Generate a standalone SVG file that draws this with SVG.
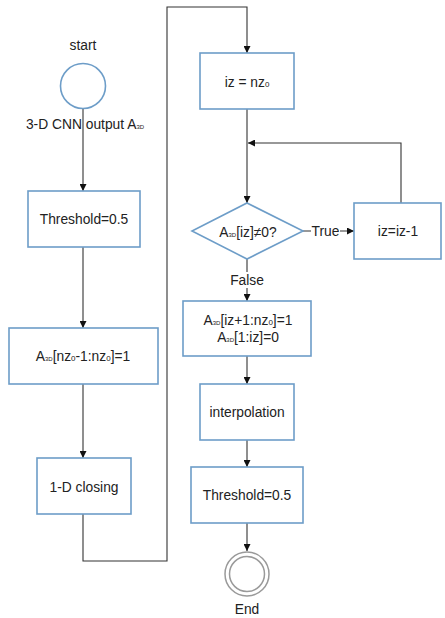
<svg xmlns="http://www.w3.org/2000/svg" width="445" height="618" viewBox="0 0 445 618">
<defs>
<marker id="ah" viewBox="0 0 10 10" refX="10" refY="5" markerWidth="7" markerHeight="7" markerUnits="userSpaceOnUse" orient="auto">
<path d="M0,0 L10,5 L0,10 z" fill="#111"/>
</marker>
<style>
.box{fill:#fff;stroke:#6d9dc8;stroke-width:1.6}
.c{fill:none;stroke:#333;stroke-width:1.1}
.t{font-family:"Liberation Sans",Arial,sans-serif;font-size:13.8px;fill:#222;text-anchor:middle}
.s{font-size:6px}
.z{font-size:8px}
</style>
</defs>
<rect width="445" height="618" fill="#fff"/>
<g id="connectors">
<path class="c" d="M83,109 V191" marker-end="url(#ah)"/>
<path class="c" d="M83,247 V328" marker-end="url(#ah)"/>
<path class="c" d="M83,384 V458" marker-end="url(#ah)"/>
<path class="c" d="M83,514 V561 H167 V7 H247 V53" marker-end="url(#ah)"/>
<path class="c" d="M247,109 V203" marker-end="url(#ah)"/>
<path class="c" d="M401,203 V143 H248" marker-end="url(#ah)"/>
<path class="c" d="M303,231 H354" marker-end="url(#ah)"/>
<path class="c" d="M247,259 V301" marker-end="url(#ah)"/>
<path class="c" d="M247,356 V384" marker-end="url(#ah)"/>
<path class="c" d="M247,440 V467" marker-end="url(#ah)"/>
<path class="c" d="M247,523 V551" marker-end="url(#ah)"/>
<rect x="311" y="223" width="29" height="16" fill="#fff"/>
<text class="t" x="325.5" y="236">True</text>
<rect x="229" y="272" width="36" height="16" fill="#fff"/>
<text class="t" x="247" y="285">False</text>
</g>
<g id="start">
<text class="t" x="83" y="50">start</text>
<circle cx="83" cy="86" r="22.5" fill="#fff" stroke="#6d9dc8" stroke-width="1.6"/>
<text class="t" x="85" y="129">3-D CNN output A<tspan class="s">3D</tspan></text>
</g>
<g id="threshold1">
<rect class="box" x="28" y="191" width="112" height="56"/>
<text class="t" x="84" y="224">Threshold=0.5</text>
</g>
<g id="assign1">
<rect class="box" x="9" y="328" width="149" height="56"/>
<text class="t" x="83" y="361">A<tspan class="s">3D</tspan>[nz<tspan class="z">0</tspan>-1:nz<tspan class="z">0</tspan>]=1</text>
</g>
<g id="closing">
<rect class="box" x="37" y="458" width="94" height="56"/>
<text class="t" x="84" y="492">1-D closing</text>
</g>
<g id="init">
<rect class="box" x="200" y="53" width="94" height="56"/>
<text class="t" x="247" y="87">iz = nz<tspan class="z">0</tspan></text>
</g>
<g id="decision">
<path class="box" d="M247,203 L303,231 L247,259 L192,231 Z"/>
<text class="t" x="248" y="237">A<tspan class="s">3D</tspan>[iz]≠0?</text>
</g>
<g id="decrement">
<rect class="box" x="354" y="203" width="87" height="56"/>
<text class="t" x="398" y="236">iz=iz-1</text>
</g>
<g id="assign2">
<rect class="box" x="183" y="301" width="128" height="55"/>
<text class="t" x="248" y="325">A<tspan class="s">3D</tspan>[iz+1:nz<tspan class="z">0</tspan>]=1</text>
<text class="t" x="248" y="342">A<tspan class="s">3D</tspan>[1:iz]=0</text>
</g>
<g id="interpolation">
<rect class="box" x="200" y="384" width="94" height="56"/>
<text class="t" x="247" y="417">interpolation</text>
</g>
<g id="threshold2">
<rect class="box" x="191" y="467" width="112" height="56"/>
<text class="t" x="247" y="500">Threshold=0.5</text>
</g>
<g id="end">
<circle cx="247" cy="574" r="22" fill="#fff" stroke="#9a9a9a" stroke-width="1.5"/>
<circle cx="247" cy="574" r="17.5" fill="none" stroke="#9a9a9a" stroke-width="1.5"/>
<text class="t" x="247" y="614">End</text>
</g>
</svg>
